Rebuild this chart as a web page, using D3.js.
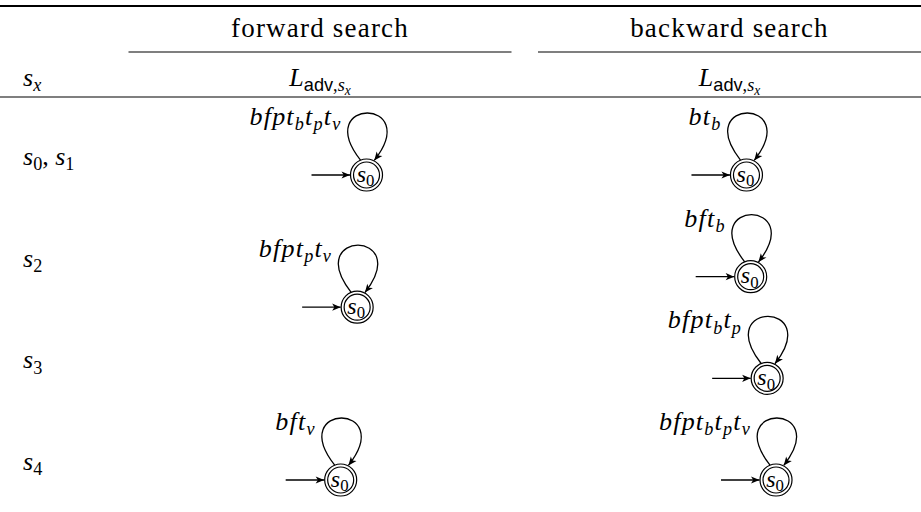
<!DOCTYPE html>
<html><head><meta charset="utf-8">
<script src="https://cdn.jsdelivr.net/npm/d3@7"></script>
<style>body{margin:0;background:#fff} svg{display:block}</style>
</head><body><svg id="c" width="921" height="512"></svg>
<script>
// ---- data ----
const rowLabels = ["s_0, s_1", "s_2", "s_3", "s_4"];
const columnTitles = ["forward search", "backward search"];
const headerLeft = "s_x";
const headerSub = "L_{\\sf{adv},s_x}";
const forwardLoops = ["bfpt_bt_pt_v", "bfpt_pt_v", "bft_v"];
const forwardRowPos = [0, 1.3, 3];
const backwardLoops = ["bt_b", "bft_b", "bfpt_bt_p", "bfpt_bt_pt_v"];
const backwardRowPos = [0, 1, 2, 3];
const stateName = "s_0";

// ---- setup ----
const W = 921, H = 512;
const svg = d3.select("#c");
const SERIF = "'Liberation Serif','Times New Roman',serif";
const SANS = "'Liberation Sans','DejaVu Sans',sans-serif";
const FS = 26;

svg.append("defs").append("marker")
  .attr("id", "ah").attr("viewBox", "-10 -5 11 10")
  .attr("refX", 0).attr("refY", 0)
  .attr("markerWidth", 11).attr("markerHeight", 10)
  .attr("markerUnits", "userSpaceOnUse").attr("orient", "auto")
  .append("path").attr("d", "M0,0 L-8.5,-3.6 L-6.3,0 L-8.5,3.6 Z").attr("fill", "#000");

const xCol = d3.scalePoint().domain(columnTitles).range([320, 729.5]);
const colHalf = 191.5;
const yRow = d3.scaleLinear().domain([0, 3]).range([165, 470]);

function parseMath(s) {
  let i = 0;
  function tok(c, level, sf) {
    return {c, level, kind: sf ? "sf" : (/[a-zA-Z]/.test(c) ? "it" : "rm")};
  }
  function group(level, sf) {
    const out = [];
    while (i < s.length) {
      const c = s[i];
      if (c === "}") { i++; return out; }
      if (c === "{") { i++; out.push(...group(level, sf)); continue; }
      if (c === "\\") { const m = s.slice(i).match(/^\\sf\{/); i += m[0].length; out.push(...group(level, true)); continue; }
      if (c === "_") {
        i++;
        if (s[i] === "{") { i++; out.push(...group(level + 1, sf)); }
        else { out.push(tok(s[i], level + 1, sf)); i++; }
        continue;
      }
      out.push(tok(c, level, sf)); i++;
    }
    return out;
  }
  return group(0, false);
}

const levelScale = [1, 0.7, 0.52];
const levelShift = [0, 0.2, 0.33];
function mathText(g, str, x, y, size, anchor, spacing) {
  const t = g.append("text").attr("x", x).attr("y", y)
    .attr("text-anchor", anchor || "start")
    .style("white-space", "pre")
    .attr("letter-spacing", spacing || 0)
    .attr("fill", "#000");
  let cur = 0;
  parseMath(str).forEach(k => {
    const sh = levelShift[k.level] * size;
    t.append("tspan")
      .attr("dy", sh - cur)
      .attr("font-size", size * levelScale[k.level])
      .attr("font-family", k.kind === "sf" ? SANS : SERIF)
      .attr("font-style", k.kind === "it" ? "italic" : "normal")
      .text(k.c);
    cur = sh;
  });
  return t;
}

// ---- rules ----
svg.append("line").attr("x1", 0).attr("x2", W).attr("y1", 6).attr("y2", 6)
  .attr("stroke", "#000").attr("stroke-width", 2);
columnTitles.forEach(c => {
  svg.append("line").attr("x1", xCol(c) - colHalf).attr("x2", xCol(c) + colHalf)
    .attr("y1", 52).attr("y2", 52).attr("stroke", "#000").attr("stroke-width", 1.2);
});
svg.append("line").attr("x1", 0).attr("x2", W).attr("y1", 97).attr("y2", 97)
  .attr("stroke", "#000").attr("stroke-width", 1.2);

// ---- headers ----
columnTitles.forEach(c => {
  svg.append("text").attr("x", xCol(c)).attr("y", 37).attr("text-anchor", "middle")
    .attr("font-family", SERIF).attr("font-size", 27).attr("letter-spacing", 1.2).text(c);
  mathText(svg, headerSub, xCol(c), 86, FS, "middle");
});
mathText(svg, headerLeft, 23, 86, FS, "start");

// ---- row labels ----
rowLabels.forEach((r, i) => mathText(svg, r, 23, yRow(i), FS, "start"));

// ---- automata ----
const R1 = 16, R2 = 13;
function automaton(label, col, rowPos) {
  const g = svg.append("g");
  const cy = yRow(rowPos) + 10;
  const lab = mathText(g, label, 0, 0, FS, "end", 1.2);
  const w = lab.node().getComputedTextLength();
  const left = Math.min(-55, -25 - w), right = 24;
  const cx = xCol(col) - (left + right) / 2;
  lab.attr("x", cx - 25).attr("y", cy - 50);
  // circles
  [R1, R2].forEach(r => g.append("circle").attr("cx", cx).attr("cy", cy).attr("r", r)
    .attr("fill", "none").attr("stroke", "#000").attr("stroke-width", 1.2));
  mathText(g, stateName, cx - 1, cy + 6.5, 24, "middle");
  // initial arrow
  g.append("line").attr("x1", cx - 55).attr("x2", cx - R1 - 0.5).attr("y1", cy).attr("y2", cy)
    .attr("stroke", "#000").attr("stroke-width", 1.3).attr("marker-end", "url(#ah)");
  // loop
  const a0 = 112 * Math.PI / 180, a3 = 62 * Math.PI / 180;
  const d0 = 128 * Math.PI / 180, d3a = 52 * Math.PI / 180;
  const L = 80;
  const p0 = [cx + R1 * Math.cos(a0), cy - R1 * Math.sin(a0)];
  const p3 = [cx + (R1 + 0.5) * Math.cos(a3), cy - (R1 + 0.5) * Math.sin(a3)];
  const p1 = [p0[0] + L * Math.cos(d0), p0[1] - L * Math.sin(d0)];
  const p2 = [p3[0] + L * Math.cos(d3a), p3[1] - L * Math.sin(d3a)];
  const d = `M${p0[0]},${p0[1]} C${p1[0]},${p1[1]} ${p2[0]},${p2[1]} ${p3[0]},${p3[1]}`;
  g.append("path").attr("d", d).attr("fill", "none")
    .attr("stroke", "#000").attr("stroke-width", 1.3).attr("marker-end", "url(#ah)");
}
forwardLoops.forEach((l, i) => automaton(l, columnTitles[0], forwardRowPos[i]));
backwardLoops.forEach((l, i) => automaton(l, columnTitles[1], backwardRowPos[i]));
</script></body></html>
